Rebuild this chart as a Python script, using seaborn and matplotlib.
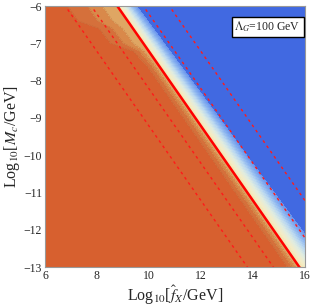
import numpy as np
import pandas as pd
import matplotlib
matplotlib.use("Agg")
import matplotlib.pyplot as plt
import seaborn as sns
from matplotlib.colors import LinearSegmentedColormap
from matplotlib.ticker import MultipleLocator

# ---- data ----
x_range = [6, 16]            # Log10[f_X/GeV]
y_range = [-13, -6]          # Log10[M_c/GeV]
intercept = 2.78             # solid line: y = intercept - x
dash_offsets = [-2, -1, 1, 2]  # dashed lines parallel to the solid one
# width (in x units) of the orange/tan transition band left of the solid line
band_left_y = [-13, -7.6, -7.2, -7.0, -6.6, -6.4, -6]
band_left_w = [0.45, 0.45, 0.6, 1.25, 1.3, 1.9, 1.9]
# width of the yellow->blue gradient right of the solid line
band_right_y = [-13, -6]
band_right_w = [1.2, 0.8]
left_levels = [-1, -0.6, -0.3, 0]
left_colors = ['#D7602F', '#D5703B', '#D9894A', '#DFA663']
right_colors = ['#F2E2A6', '#F4ECC6', '#E0ECDF', '#BCD9F0', '#8DB6F0', '#6A95EE']
far_color = '#4169E1'
legend_text = r'$\Lambda_G$=100 GeV'
xlabel = r'Log$_{10}$[$\hat{f}_X$/GeV]'
ylabel = r'Log$_{10}$[$M_c$/GeV]'

sns.set_theme(style='white')
plt.rcParams['font.family'] = ['Liberation Serif', 'DejaVu Serif']
plt.rcParams['mathtext.fontset'] = 'stix'

fig = plt.figure(figsize=(3.12, 3.07), dpi=100)
ax = fig.add_axes([45/312, 40/307, 260/312, 261/307])

xs = np.linspace(x_range[0], x_range[1], 700)
ys = np.linspace(y_range[0], y_range[1], 700)
X, Y = np.meshgrid(xs, ys)
D = X + Y - intercept
wl = np.interp(Y, band_left_y, band_left_w)
wr = np.interp(Y, band_right_y, band_right_w)
Z = np.where(D < 0, D / wl, D / wr)

n_right = 24
right_lv = list(np.linspace(0, 1, n_right + 1))
levels = [-100] + left_levels[:-1] + right_lv + [100]
cmap_r = LinearSegmentedColormap.from_list('r', right_colors)
rcols = [cmap_r(i / (n_right - 1)) for i in range(n_right)]
colors = left_colors + rcols + [far_color]
ax.contourf(X, Y, Z, levels=levels, colors=colors, antialiased=False)
ax.contour(X, Y, Z, levels=left_levels[:-1], colors='#B05A30', linewidths=0.4, alpha=0.5)

# lines
lx = np.array(x_range, dtype=float)
df = pd.DataFrame({'x': lx, 'y': intercept - lx})
sns.lineplot(data=df, x='x', y='y', ax=ax, color='#FF0000', lw=1.8)
for off in dash_offsets:
    d = pd.DataFrame({'x': lx, 'y': intercept + off - lx})
    sns.lineplot(data=d, x='x', y='y', ax=ax, color='#FF1A1A', lw=1.0,
                 linestyle=(0, (2, 2.6)))

ax.set_xlim(*x_range)
ax.set_ylim(*y_range)
ax.xaxis.set_major_locator(MultipleLocator(2))
ax.xaxis.set_minor_locator(MultipleLocator(0.5))
ax.yaxis.set_major_locator(MultipleLocator(1))
ax.yaxis.set_minor_locator(MultipleLocator(0.2))
ax.tick_params(which='both', direction='in', top=True, right=True,
               color='#333333', labelsize=8.5, pad=2)
ax.tick_params(which='major', length=3.5, width=0.6)
ax.tick_params(which='minor', length=2, width=0.5)
for s in ax.spines.values():
    s.set_color('#999999')
    s.set_linewidth(0.8)
ax.set_xlabel(xlabel, fontsize=11.5, labelpad=1)
ax.set_ylabel(ylabel, fontsize=11.5, labelpad=1)

ax.text(0.983, 0.948, legend_text, transform=ax.transAxes, ha='right', va='top',
        fontsize=8.5, bbox=dict(boxstyle='square,pad=0.25', fc='white', ec='black', lw=1.0))

fig.savefig('out.png', dpi=100)
